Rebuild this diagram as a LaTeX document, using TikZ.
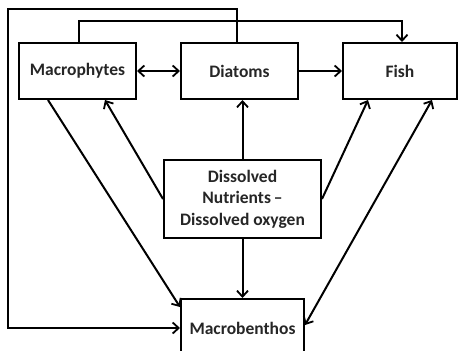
\documentclass[tikz,border=0pt]{standalone}
\usepackage{fontspec}
\setmainfont{Carlito}
\usetikzlibrary{arrows.meta}
\begin{document}
\begin{tikzpicture}[x=1pt,y=-1pt,
  box/.style={draw,line width=2pt,rectangle,inner sep=0pt,align=center,
    font=\fontsize{17.5}{21.5}\selectfont\bfseries,text=black!85},
  conn/.style={line width=2pt,line join=miter},
  tip/.style={-{Straight Barb[length=6pt,width=11pt,line width=1.8pt]}},
  tips/.style={{Straight Barb[length=6pt,width=11pt,line width=1.8pt]}-{Straight Barb[length=6pt,width=11pt,line width=1.8pt]}}]
\clip (0,0) rectangle (459,351);
\fill[white] (0,0) rectangle (459,351);
\node[box,minimum width=117pt,minimum height=56pt] (mac) at (77.5,71) {Macrophytes};
\node[box,minimum width=117pt,minimum height=56pt] (dia) at (239.5,71) {Diatoms};
\node[box,minimum width=114pt,minimum height=56pt] (fish) at (400,71) {Fish};
\node[box,minimum width=157pt,minimum height=78pt] (dis) at (242.5,199) {Dissolved\\Nutrients\,--\\Dissolved oxygen};
\node[box,minimum width=123pt,minimum height=58pt] (ben) at (242.5,328) {Macrobenthos};
\coordinate (cnr) at (8,328);
% top connector macrophytes -> fish
\draw[conn,tip] ([xshift=1.5pt]mac.north) -- ++(0,-21) -| ([xshift=2pt]fish.north);
% outer connector diatoms -> macrobenthos
\draw[conn,tip] ([xshift=-2.5pt]dia.north) -- ++(0,-33) -| (cnr) -- (ben.west);
\draw[conn,tips] (mac.east) -- (dia.west);
\draw[conn,tip] (dia.east) -- (fish.west);
\draw[conn,tip] ([xshift=-29.5pt]mac.south) -- ([yshift=-9pt]ben.north west);
\draw[conn,tip] (dis.west) -- ([xshift=27.5pt]mac.south);
\draw[conn,tip] (dis.north) -- (dis.north |- dia.south);
\draw[conn,tip] (dis.east) -- ([xshift=-32pt]fish.south);
\draw[conn,tip] (dis.south) -- (ben.north);
\draw[conn,tips] ([xshift=32pt]fish.south) -- ([yshift=3pt]ben.east);
\end{tikzpicture}
\end{document}
